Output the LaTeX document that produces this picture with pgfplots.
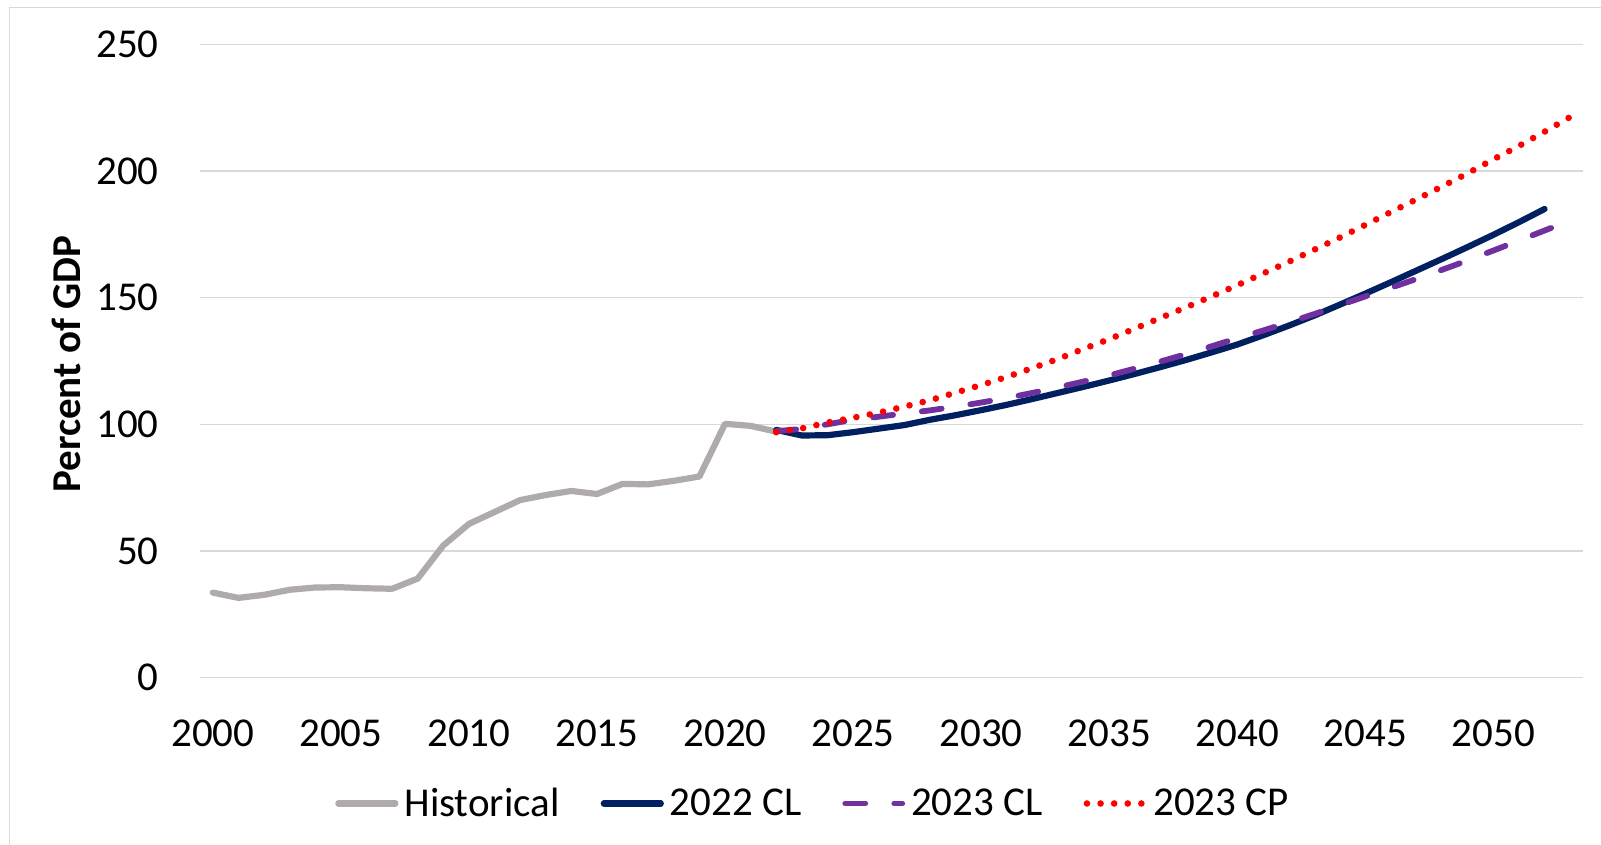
\documentclass[border=0pt]{standalone}
\usepackage{fontspec}
\setmainfont{Carlito}
\usepackage{pgfplots}
\pgfplotsset{compat=1.18}
\definecolor{histgray}{RGB}{175,171,171}
\definecolor{navyblue}{HTML}{002060}
\definecolor{purp}{HTML}{7030A0}
\definecolor{gridc}{HTML}{D9D9D9}
\begin{document}
\begin{tikzpicture}
\path[use as bounding box] (0,0) rectangle (800.5pt,422.5pt);
\draw[gridc, line width=0.75pt] (4.65pt,0) -- (4.65pt,418.85pt) -- (800.5pt,418.85pt);
\begin{axis}[
  at={(100pt,83.65pt)}, anchor=south west,
  scale only axis, width=691.5pt, height=316.7pt,
  xmin=1999.5, xmax=2053.5, ymin=0, ymax=250,
  xtick={2000,2005,...,2050},
  xticklabels={2000,2005,2010,2015,2020,2025,2030,2035,2040,2045,2050},
  ytick={0,50,...,250},
  ymajorgrids, grid style={gridc, line width=0.75pt},
  axis line style={draw=none}, major tick length=0pt,
  tick label style={font=\fontsize{20.5}{24}\selectfont, inner sep=0pt},
  /pgf/number format/assume math mode=true,
  yticklabel style={anchor=east, xshift=-20.5pt},
  xticklabel style={anchor=north, yshift=-20.8pt},
  ylabel={Percent of GDP},
  ylabel style={at={(axis description cs:-0.0966,0.495)}, anchor=center, font=\bfseries\fontsize{20.5}{24}\selectfont},
  legend columns=4,
  legend style={at={(0.4425,-0.1986)}, anchor=center, draw=none, fill=none,
    font=\fontsize{20.5}{24}\selectfont, nodes={inner sep=0pt},
    /tikz/every odd column/.append style={column sep=3pt},
    /tikz/every even column/.append style={column sep=20.5pt}},
  legend image code/.code={\draw[#1] (0pt,0pt) -- (28.5pt,0pt);},
  every axis plot/.append style={line join=round, line cap=round},
]
\addplot[color=histgray, line width=3.1pt] coordinates {
(2000,33.6) (2001,31.5) (2002,32.7) (2003,34.7) (2004,35.6) (2005,35.7) (2006,35.3)
(2007,35.1) (2008,39.1) (2009,52.2) (2010,60.7) (2011,65.4) (2012,70.1) (2013,72.1)
(2014,73.7) (2015,72.5) (2016,76.5) (2017,76.3) (2018,77.7) (2019,79.4) (2020,100.2)
(2021,99.4) (2022,97.1)};
\addlegendentry{Historical}
\addplot[color=navyblue, line width=3.1pt] coordinates {
(2022,97.8) (2023,95.6) (2024,95.7) (2025,96.9) (2026,98.3) (2027,99.7) (2028,101.8)
(2029,103.6) (2030,105.6) (2031,107.7) (2032,110.0) (2033,112.4) (2034,114.8)
(2035,117.3) (2036,119.9) (2037,122.6) (2038,125.4) (2039,128.4) (2040,131.5)
(2041,135.1) (2042,138.9) (2043,142.9) (2044,147.2) (2045,151.6) (2046,156.1)
(2047,160.7) (2048,165.3) (2049,170.0) (2050,174.8) (2051,179.8) (2052,185.0)};
\addlegendentry{2022 CL}
\addplot[color=purp, line width=2.9pt, dash pattern=on 10pt off 14.5pt] coordinates {
(2022,97.3) (2023,98.2) (2024,100.0) (2025,101.8) (2026,103.0) (2027,104.3) (2028,105.5)
(2029,107.0) (2030,108.6) (2031,110.4) (2032,112.4) (2033,114.6) (2034,116.9)
(2035,119.3) (2036,122.0) (2037,124.8) (2038,127.7) (2039,130.8) (2040,134.0)
(2041,137.0) (2042,140.2) (2043,143.5) (2044,147.0) (2045,150.5) (2046,153.9)
(2047,157.4) (2048,161.0) (2049,164.7) (2050,168.6) (2051,172.5) (2052,176.5) (2053,180.5)};
\addlegendentry{2023 CL}
\addplot[color=red, line width=3.3pt, dash pattern=on 0pt off 6.8pt] coordinates {
(2022,96.9) (2023,98.4) (2024,100.7) (2025,102.6) (2026,104.6) (2027,107.0) (2028,109.5)
(2029,112.5) (2030,115.5) (2031,118.7) (2032,122.2) (2033,125.8) (2034,129.8)
(2035,133.6) (2036,137.8) (2037,142.0) (2038,146.2) (2039,150.5) (2040,154.9)
(2041,159.5) (2042,164.1) (2043,168.9) (2044,173.7) (2045,178.7) (2046,183.8)
(2047,188.8) (2048,193.9) (2049,199.1) (2050,204.6) (2051,209.9) (2052,215.5) (2053,221.3)};
\addlegendentry{2023 CP}
\end{axis}
\end{tikzpicture}
\end{document}
